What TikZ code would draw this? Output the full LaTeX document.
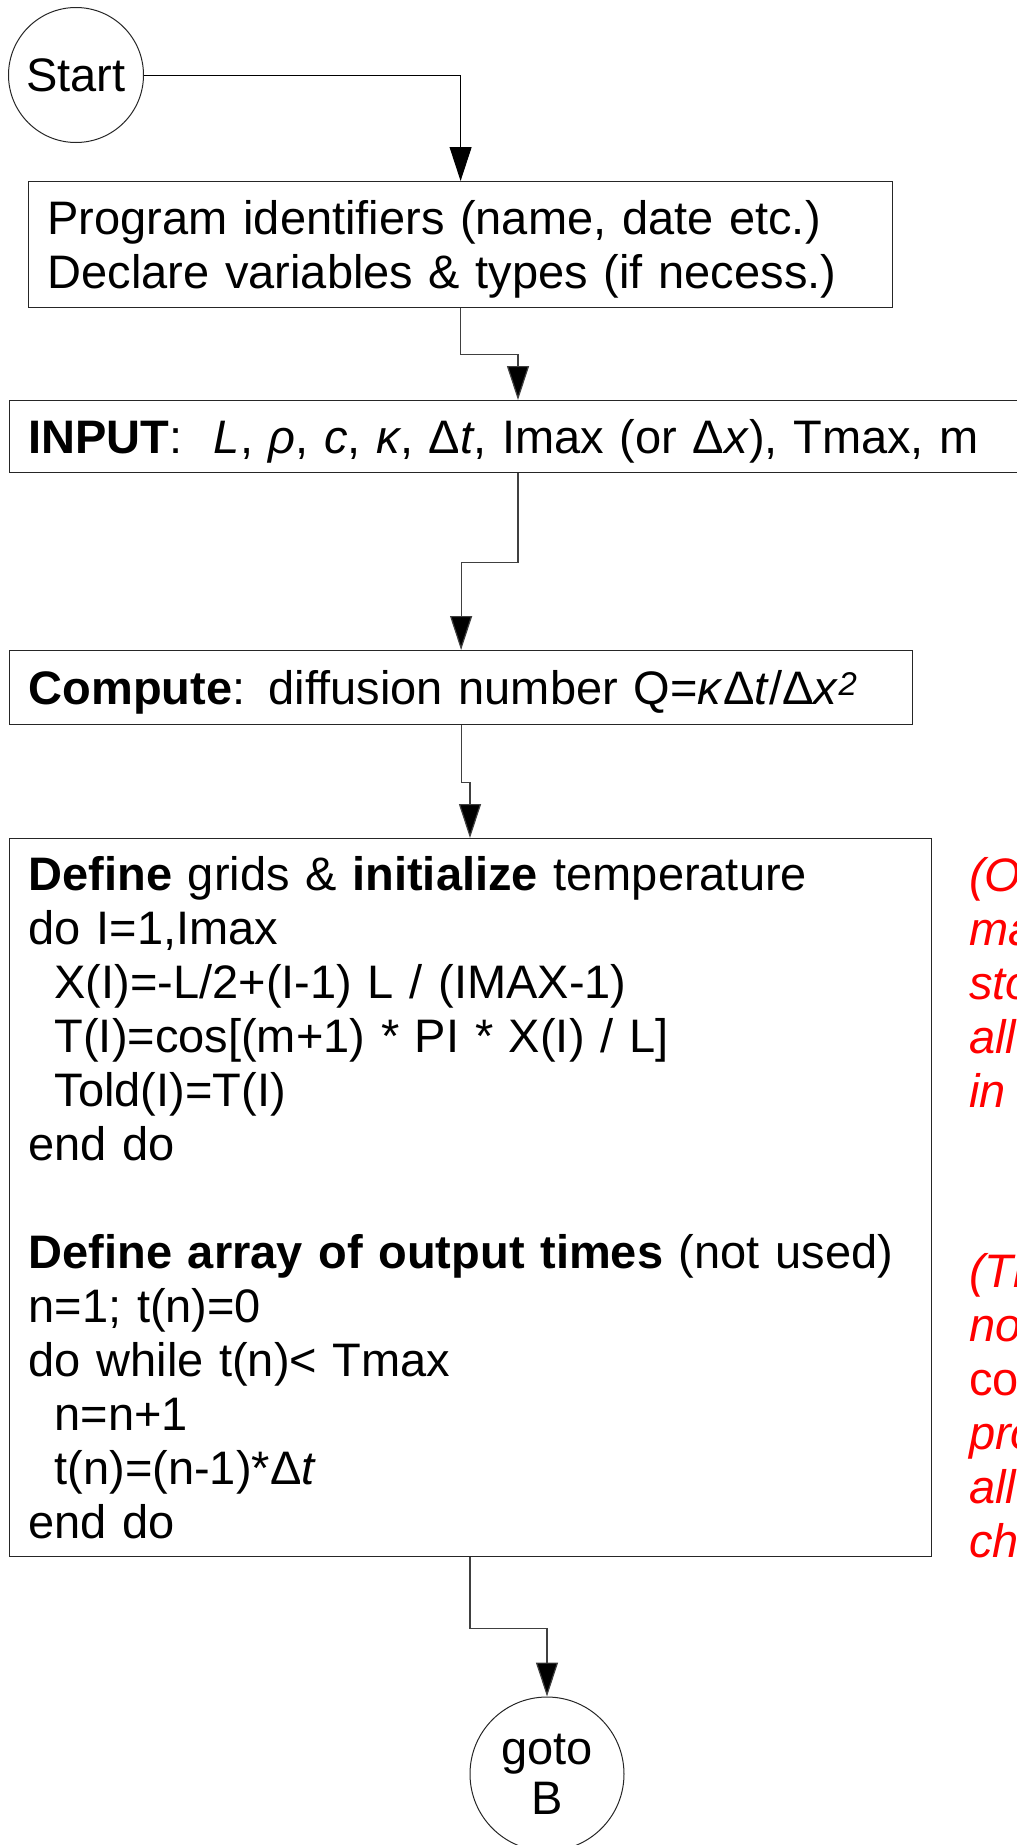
\documentclass[tikz,border=0pt]{standalone}
\usepackage{fontspec}
\setmainfont{Liberation Sans}
\usetikzlibrary{arrows.meta}

\begin{document}
\begin{tikzpicture}[x=1pt,y=1pt,
    box/.style={draw=black!85, line width=1.2pt, anchor=north west, inner xsep=19pt, inner ysep=0pt, align=left},
    term/.style={draw=black!85, line width=1pt, circle, inner sep=0pt, align=center},
    note/.style={text=red, anchor=west, inner sep=0pt, align=left, font=\fontsize{47}{54}\selectfont\itshape},
    arr/.style={draw=black!75, line width=1.2pt, -{Triangle[width=22pt,length=34pt,fill=black]}}]
    \tikzstyle{every node}+=[font=\fontsize{47}{54}\selectfont]
    \clip (0,0) rectangle (1017,-1845);
    \node[term, minimum size=135pt] (start) at (76,-75) {Start};
    \node[box, minimum height=126pt, text width=826pt, text depth=54pt] (prog) at (28,-181)
        {Program identifiers (name, date etc.)\\Declare variables \& types (if necess.)};
    \node[box, minimum height=72pt, text width=993pt, text depth=0pt] (input) at (9,-400)
        {\textbf{INPUT}:\ \ \textit{L}, \textit{ρ}, \textit{c}, \textit{κ}, Δ\textit{t}, Imax (or Δ\textit{x}), Tmax, m};
    \node[box, minimum height=74pt, text width=865pt, text depth=0pt] (comp) at (9,-650)
        {\textbf{Compute}: diffusion number Q=\textit{κ}Δ\textit{t}/Δ\textit{x}\textsuperscript{\itshape 2}};
    \node[box, minimum height=718pt, text width=884pt] (grid) at (9,-838)
        {\textbf{Define} grids \& \textbf{initialize} temperature\\
         do I=1,Imax\\
         \hspace*{26pt}X(I)=-L/2+(I-1) L / (IMAX-1)\\
         \hspace*{26pt}T(I)=cos[(m+1) * PI * X(I) / L]\\
         \hspace*{26pt}Told(I)=T(I)\\
         end do\\[54pt]
         \textbf{Define array of output times} (not used)\\
         n=1; t(n)=0\\
         do while t(n)< Tmax\\
         \hspace*{26pt}n=n+1\\
         \hspace*{26pt}t(n)=(n-1)*Δ\textit{t}\\
         end do};
    \node[term, minimum size=154pt, font=\fontsize{47}{50}\selectfont] (goto) at (547,-1774) {goto\\B};
    \node[note] (noteA) at (969,-982) {(O\\ma\\sto\\all\\in};
    \node[note] (noteB) at (969,-1406) {(Th\\no\\\textup{co}\\pro\\all\\ch};
    \draw[draw=black, line width=1pt, -{Triangle[width=22pt,length=34pt]}] (start.east) -| (prog.north);
    \draw[arr] (prog.south) -- ++(0,-46) -| ([xshift=509pt]input.north west);
    \draw[arr] ([xshift=509pt]input.south west) -- ++(0,-89) -| (comp.north);
    \draw[arr] (comp.south) -- ++(0,-57) -| ([xshift=461pt]grid.north west);
    \draw[arr] ([xshift=461pt]grid.south west) -- ++(0,-71) -| (goto.north);
\end{tikzpicture}
\end{document}
